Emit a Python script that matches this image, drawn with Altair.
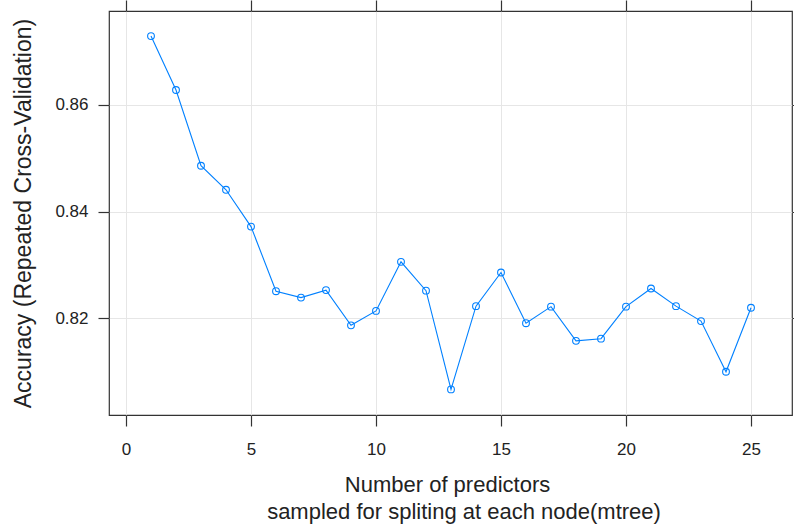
import altair as alt
import pandas as pd

# Number of predictors tried at each split (mtry) and resampled accuracy
mtry = list(range(1, 26))
accuracy = [
    0.8729, 0.8628, 0.8486, 0.8441, 0.8372, 0.8251, 0.8239, 0.8253, 0.8187, 0.8214,
    0.8306, 0.8252, 0.8067, 0.8223, 0.8286, 0.8191, 0.8222, 0.8158, 0.8162, 0.8222,
    0.8256, 0.8223, 0.8195, 0.8100, 0.8220,
]
x_ticks = [0, 5, 10, 15, 20, 25]
y_ticks = [0.82, 0.84, 0.86]

df = pd.DataFrame({"mtry": mtry, "accuracy": accuracy})

BLUE = "#0080ff"
INK = "#333333"
TEXT = "#222222"
FONT = "Liberation Sans"

x_scale = alt.Scale(domain=[-0.68, 26.64], nice=False, zero=False)
y_scale = alt.Scale(domain=[0.8019, 0.8776], nice=False, zero=False)

x_title = "Number of predictors"
x_subtitle = "sampled for spliting at each node(mtree)"
y_title = "Accuracy (Repeated Cross-Validation)"

bottom_axis = alt.Axis(
    orient="bottom", values=x_ticks, format="d", grid=True, domain=False,
    tickSize=11, tickColor=INK, labelPadding=15, labelFontSize=17,
    title=x_title, titleFontSize=22, titleFontWeight="normal",
    titlePadding=17, titleX=338,
)
left_axis = alt.Axis(
    orient="left", values=y_ticks, format=".2f", grid=True, domain=False,
    tickSize=11, tickColor=INK, labelPadding=10, labelFontSize=17,
    title=y_title, titleFontSize=23, titleFontWeight="normal", titlePadding=19,
)
top_axis = alt.Axis(
    orient="top", values=x_ticks, grid=False, domain=False, labels=False,
    tickSize=11, tickColor=INK, title=None,
)
right_axis = alt.Axis(
    orient="right", values=y_ticks, grid=False, domain=False, labels=False,
    tickSize=11, tickColor=INK, title=None,
)

base = alt.Chart(df)

line = base.mark_line(color=BLUE, strokeWidth=1.1).encode(
    x=alt.X("mtry:Q", scale=x_scale, axis=bottom_axis),
    y=alt.Y("accuracy:Q", scale=y_scale, axis=left_axis),
)

points = base.mark_point(
    shape="circle", filled=False, color=BLUE, size=46, strokeWidth=1.1, opacity=1
).encode(
    x=alt.X("mtry:Q", scale=x_scale, axis=top_axis),
    y=alt.Y("accuracy:Q", scale=y_scale, axis=right_axis),
)

# second line of the x-axis title, set a little to the right of the first
subtitle = alt.Chart(pd.DataFrame({"t": [x_subtitle]})).mark_text(
    font=FONT, fontSize=22, color=TEXT, align="center", baseline="alphabetic"
).encode(text="t:N", x=alt.value(355), y=alt.value(507.5))

chart = (
    alt.layer(line, points, subtitle)
    .resolve_axis(x="independent", y="independent")
    .properties(
        width=683,
        height=404,
        autosize=alt.AutoSizeParams(type="none"),
        padding={"left": 109, "top": 11, "right": 2, "bottom": 117},
        background="white",
    )
    .configure_view(stroke=INK, strokeWidth=1.2)
    .configure_axis(
        labelFont=FONT, titleFont=FONT, labelColor=TEXT, titleColor=TEXT,
        gridColor="#e6e6e6", gridWidth=1, tickWidth=1.2,
    )
)

chart.save("out.html", embed_options={"renderer": "svg", "actions": False})
